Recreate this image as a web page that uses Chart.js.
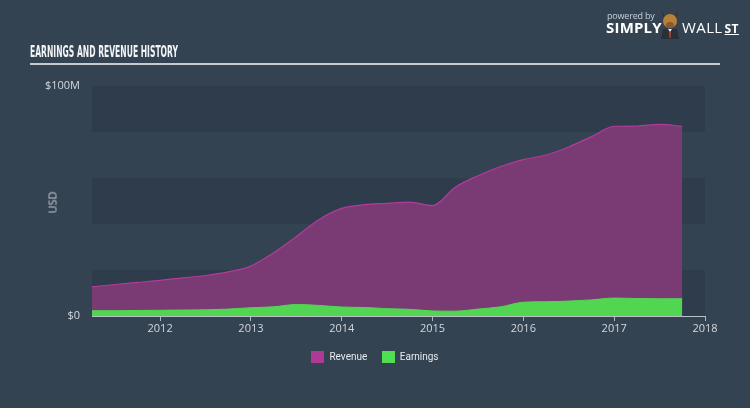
<!DOCTYPE html>
<html>
<head>
<meta charset="utf-8">
<script src="https://cdn.jsdelivr.net/npm/chart.js@4.4.0/dist/chart.umd.min.js"></script>
<style>
  html, body { margin:0; padding:0; background:#344352; }
  #wrap { position:relative; width:750px; height:408px; overflow:hidden; background:#344352; font-family:"Open Sans", "DejaVu Sans", sans-serif; }
  #c { position:absolute; left:0; top:0; }
  .title { position:absolute; left:30px; top:43px; color:#f2f4f6; font-family:"DejaVu Sans Condensed","Liberation Sans Narrow",sans-serif; font-weight:bold; font-size:16.5px; line-height:18px; transform-origin:left top; white-space:nowrap; }
  .rule { position:absolute; left:30px; top:63px; width:690px; height:2px; background:#c3cad2; }
  .usd { position:absolute; left:40px; top:195px; color:#c9d0d8; font-size:11px; transform:rotate(-90deg); transform-origin:center; width:24px; text-align:center; }
  .logo1 { position:absolute; left:607px; top:9px; color:#c9d0d8; font-size:9px; letter-spacing:-0.2px; }
  .logo2 { position:absolute; left:606px; top:17px; color:#ffffff; font-size:15px; font-weight:bold; font-family:"Open Sans",sans-serif; letter-spacing:0.2px; }
  .logo3 { position:absolute; left:682px; top:17px; color:#ffffff; font-size:15px; font-family:"Open Sans",sans-serif; letter-spacing:0.4px; }
  .logo3 u { text-decoration:underline; font-weight:bold; font-size:12px; margin-left:2px; }
  .bull { position:absolute; left:658px; top:8px; width:24px; height:31px; }
  .legend { position:absolute; top:351px; left:0; width:750px; text-align:center; color:#e6e9ed; font-size:10px; font-family:"Roboto",sans-serif; }
  .legend span.item { display:inline-block; margin:0 6px; }
  .legend i { display:inline-block; width:13px; height:12px; vertical-align:-3px; margin-right:5px; }
</style>
</head>
<body>
<div id="wrap">
  <canvas id="c" width="750" height="408"></canvas>
  <div class="title" id="ttl">EARNINGS AND REVENUE HISTORY</div>
  <div class="rule"></div>
  <div class="usd">USD</div>
  <div class="logo1">powered by</div>
  <div class="logo2">SIMPLY</div>
  <svg class="bull" viewBox="0 0 24 31">
    <path d="M3 1 L7 9 L17 9 L21 1 L18 10 L6 10 Z" fill="#3a2a1a"/>
    <ellipse cx="12" cy="13" rx="7" ry="7" fill="#b8813a"/>
    <ellipse cx="12" cy="17" rx="4" ry="3" fill="#8a5a2a"/>
    <path d="M3 31 L5 21 L19 21 L21 31 Z" fill="#2b2f36"/>
    <path d="M10 21 L14 21 L12 24 Z" fill="#eeeeee"/>
    <path d="M11.3 23 L12.7 23 L12.5 30 L11.5 30 Z" fill="#e0502a"/>
  </svg>
  <div class="logo3">WALL<u>ST</u></div>
  <div class="legend">
    <span class="item"><i style="background:#ad3a93"></i>Revenue</span>
    <span class="item"><i style="background:#52de52"></i>Earnings</span>
  </div>
</div>
<script>
// Time in decimal years
const dates = [2011.25, 2011.5, 2011.75, 2012.0, 2012.25, 2012.5, 2012.75, 2013.0, 2013.25, 2013.5, 2013.75,
  2014.0, 2014.25, 2014.5, 2014.75, 2015.0, 2015.25, 2015.5, 2015.75, 2016.0, 2016.25, 2016.5, 2016.75,
  2017.0, 2017.25, 2017.5, 2017.75];
// USD millions
const revenue = [12.7, 13.7, 14.6, 15.5, 16.6, 17.6, 19.2, 21.7, 27.5, 34.5, 42.0,
  46.8, 48.4, 49.0, 49.5, 48.0, 56.0, 61.0, 65.0, 68.0, 70.0, 73.5, 78.0,
  82.5, 82.6, 83.3, 82.5];
const earnings = [2.3, 2.3, 2.4, 2.5, 2.6, 2.7, 3.0, 3.6, 4.0, 5.0, 4.6,
  3.9, 3.7, 3.2, 2.9, 2.2, 2.1, 3.0, 4.0, 6.0, 6.2, 6.5, 7.0,
  7.8, 7.6, 7.5, 7.5];
const yTicks = [0, 100];
const yTickLabels = ['$0', '$100M'];
const xTicks = [2012, 2013, 2014, 2015, 2016, 2017, 2018];
const bandRanges = [[0, 20], [40, 60], [80, 100]];

// fit title to the reference width (condensed headline font)
(function () {
  const t = document.getElementById('ttl');
  const w = t.getBoundingClientRect().width;
  t.style.transform = 'scaleX(' + (148 / w).toFixed(3) + ')';
})();

const pts = (arr) => dates.map((d, i) => ({ x: d, y: arr[i] }));

const bandsPlugin = {
  id: 'bands',
  beforeDatasetsDraw(chart) {
    const { ctx, chartArea, scales } = chart;
    ctx.save();
    ctx.fillStyle = '#2e3c4b';
    bandRanges.forEach(([a, b]) => {
      const y1 = scales.y.getPixelForValue(b);
      const y2 = scales.y.getPixelForValue(a);
      ctx.fillRect(chartArea.left, y1, chartArea.right - chartArea.left, y2 - y1);
    });
    ctx.restore();
  }
};

new Chart(document.getElementById('c'), {
  type: 'line',
  data: {
    datasets: [
      { label: 'Earnings', data: pts(earnings), borderColor: '#52d652', backgroundColor: '#52d652',
        fill: 'origin', borderWidth: 1, pointRadius: 0, cubicInterpolationMode: 'monotone' },
      { label: 'Revenue', data: pts(revenue), borderColor: '#b23b9b', backgroundColor: '#7a3a74',
        fill: 'origin', borderWidth: 1.2, pointRadius: 0, cubicInterpolationMode: 'monotone' }
    ]
  },
  options: {
    responsive: false,
    animation: false,
    layout: { padding: { left: 0, top: 86, right: 45, bottom: 62 } },
    plugins: { legend: { display: false }, tooltip: { enabled: false } },
    scales: {
      x: {
        type: 'linear', min: 2011.25, max: 2018,
        afterBuildTicks: (s) => { s.ticks = xTicks.map(v => ({ value: v })); },
        afterFit: (s) => { s.height = 30; },
        ticks: { color: '#d3d8de', font: { size: 11, family: 'Open Sans' }, padding: 1, maxRotation: 0,
          callback: (v) => String(v) },
        grid: { display: true, drawOnChartArea: false, drawTicks: true, tickLength: 5, color: '#aeb7c1' },
        border: { display: true, color: '#b8c0c9', width: 1 }
      },
      y: {
        min: 0, max: 100,
        afterBuildTicks: (s) => { s.ticks = yTicks.map(v => ({ value: v })); },
        afterFit: (s) => { s.width = 92; },
        ticks: { color: '#d3d8de', font: { size: 11, family: 'Open Sans' }, padding: 12,
          callback: (v) => yTickLabels[yTicks.indexOf(v)] },
        grid: { display: false, drawTicks: false },
        border: { display: false }
      }
    }
  },
  plugins: [bandsPlugin]
});
</script>
</body>
</html>
